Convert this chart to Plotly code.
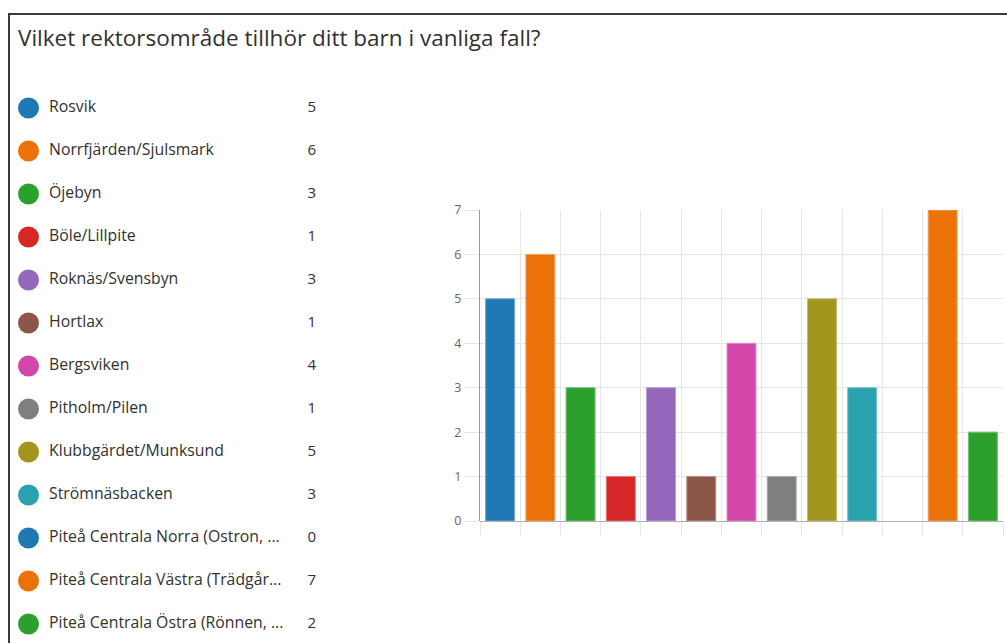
import plotly.graph_objects as go

title = "Vilket rektorsområde tillhör ditt barn i vanliga fall?"
categories = [
    "Rosvik",
    "Norrfjärden/Sjulsmark",
    "Öjebyn",
    "Böle/Lillpite",
    "Roknäs/Svensbyn",
    "Hortlax",
    "Bergsviken",
    "Pitholm/Pilen",
    "Klubbgärdet/Munksund",
    "Strömnäsbacken",
    "Piteå Centrala Norra (Ostron, ...",
    "Piteå Centrala Västra (Trädgår...",
    "Piteå Centrala Östra (Rönnen, ...",
]
counts = [5, 6, 3, 1, 3, 1, 4, 1, 5, 3, 0, 7, 2]
colors = ["#1f77b4", "#ea7209", "#2ca02c", "#d62728", "#9467bd", "#8c564b",
          "#d347a8", "#7f7f7f", "#a2951e", "#2aa3ae", "#1f77b4", "#ea7209", "#2ca02c"]
y_ticks = [0, 1, 2, 3, 4, 5, 6, 7]

W, H = 1007, 643


def px(x):  # page x -> paper fraction
    return x / W


def py(y):  # page y (from top) -> paper fraction
    return (H - y) / H


def lighten(hx, f=0.35):
    r, g, b = int(hx[1:3], 16), int(hx[3:5], 16), int(hx[5:7], 16)
    r, g, b = [int(c + (255 - c) * f) for c in (r, g, b)]
    return f"rgb({r},{g},{b})"


fig = go.Figure()

fig.add_trace(go.Bar(
    x=categories, y=counts,
    marker=dict(color=colors,
                line=dict(color=[lighten(c) for c in colors],
                          width=[1 if v > 0 else 0 for v in counts])),
    xaxis="x", yaxis="y", showlegend=False, hoverinfo="x+y",
))

rows = list(range(len(categories)))
fig.add_trace(go.Scatter(
    x=[28.5] * len(rows), y=rows, mode="markers",
    marker=dict(size=21, color=colors, line=dict(width=0)),
    xaxis="x2", yaxis="y2", showlegend=False, hoverinfo="skip",
))
fig.add_trace(go.Scatter(
    x=[49] * len(rows), y=rows, mode="text", text=categories,
    textposition="middle right",
    textfont=dict(family="Open Sans", size=15.8, color="#323130"),
    xaxis="x2", yaxis="y2", showlegend=False, hoverinfo="skip",
))
fig.add_trace(go.Scatter(
    x=[316] * len(rows), y=rows, mode="text", text=[str(c) for c in counts],
    textposition="middle left",
    textfont=dict(family="Open Sans", size=15, color="#323130"),
    xaxis="x2", yaxis="y2", showlegend=False, hoverinfo="skip",
))

# legend row i centred at page y = 108 + 43*i
y2_top = (0 - 108) / 43
y2_bot = (H - 108) / 43

# 13 category slots between page x 480 and 1003
grid = "#e6e6e6"
fig.update_layout(
    width=W, height=H,
    margin=dict(l=0, r=0, t=0, b=0, pad=0, autoexpand=False),
    paper_bgcolor="white", plot_bgcolor="white",
    bargap=0.28,
    xaxis=dict(
        domain=[px(480), px(1003)], type="category", automargin=False,
        showticklabels=False, tickson="boundaries",
        showgrid=True, gridcolor=grid, gridwidth=1,
        ticks="outside", ticklen=14, tickcolor=grid, tickwidth=1,
        showline=False, zeroline=False, fixedrange=True,
    ),
    yaxis=dict(
        domain=[py(521), py(210)], range=[0, 7], automargin=False,
        tickvals=y_ticks, ticktext=[str(v) for v in y_ticks],
        showgrid=True, gridcolor=grid, gridwidth=1,
        ticks="outside", ticklen=15, tickcolor=grid, tickwidth=1,
        showline=True, linecolor="#9a9a9a", linewidth=1,
        zeroline=True, zerolinecolor="#b0b0b0", zerolinewidth=1,
        tickfont=dict(family="Open Sans", size=12.5, color="#666666"),
        ticklabelstandoff=0, fixedrange=True,
    ),
    xaxis2=dict(domain=[0, px(473)], range=[0, 473], visible=False,
                automargin=False, fixedrange=True),
    yaxis2=dict(domain=[0, 1], range=[y2_bot, y2_top], visible=False,
                automargin=False, fixedrange=True),
    annotations=[dict(
        text=title, xref="paper", yref="paper", x=px(16), y=py(37),
        xanchor="left", yanchor="middle", showarrow=False,
        font=dict(family="Open Sans", size=22.5, color="#323130"),
    )],
    shapes=[dict(
        type="rect", xref="paper", yref="paper",
        x0=px(9), x1=1.05, y0=-0.05, y1=py(14),
        line=dict(color="#3c3c3c", width=2), fillcolor="rgba(0,0,0,0)", layer="above",
    )],
)

fig.write_html("out.html", post_script="document.body.style.margin='0';",
               config={"displayModeBar": False})
